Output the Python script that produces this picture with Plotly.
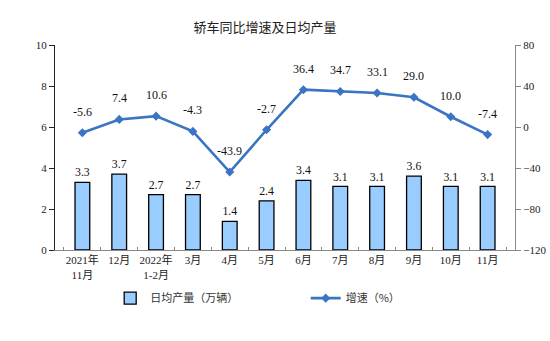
import plotly.graph_objects as go

categories = ["2021年<br>11月", "12月", "2022年<br>1-2月", "3月", "4月", "5月",
              "6月", "7月", "8月", "9月", "10月", "11月"]
daily_output = [3.3, 3.7, 2.7, 2.7, 1.4, 2.4, 3.4, 3.1, 3.1, 3.6, 3.1, 3.1]
growth = [-5.6, 7.4, 10.6, -4.3, -43.9, -2.7, 36.4, 34.7, 33.1, 29.0, 10.0, -7.4]

FONT = "Liberation Serif, Noto Sans CJK SC, serif"

fig = go.Figure()
fig.add_trace(go.Bar(
    x=categories, y=daily_output, name="日均产量（万辆）",
    marker=dict(color="#99CCFF", line=dict(color="#000000", width=1.3)),
    width=0.4,
    text=[f"{v:.1f}" for v in daily_output], textposition="outside",
    textfont=dict(family=FONT, size=12, color="#111"),
    cliponaxis=False, legend="legend",
))
fig.add_trace(go.Scatter(
    x=categories, y=growth, name="增速（%）", yaxis="y2",
    mode="lines+markers",
    line=dict(color="#3A74C2", width=2.6),
    marker=dict(symbol="diamond", size=7, color="#3A74C2"),
    cliponaxis=False, legend="legend2",
))

for c, v in zip(categories, growth):
    fig.add_annotation(x=c, y=v, xref="x", yref="y2", text=f"{v:.1f}",
                       showarrow=False, yshift=21,
                       font=dict(family=FONT, size=12, color="#111"))

legend_font = dict(family="Noto Sans CJK SC", size=11, color="#333")
fig.update_layout(
    width=550, height=341,
    margin=dict(l=55, r=35, t=45, b=91, autoexpand=False),
    paper_bgcolor="white", plot_bgcolor="white",
    title=dict(text="轿车同比增速及日均产量", x=0.482, xanchor="center", y=0.92, yanchor="middle",
               font=dict(family="Noto Sans CJK SC", size=13, color="#222")),
    font=dict(family=FONT, size=11, color="#222"),
    showlegend=True,
    legend=dict(x=0.12, xanchor="left", y=-0.235, yanchor="middle",
                font=legend_font, itemwidth=30, bgcolor="rgba(0,0,0,0)"),
    legend2=dict(x=0.545, xanchor="left", y=-0.235, yanchor="middle",
                 font=legend_font, itemwidth=30, bgcolor="rgba(0,0,0,0)"),
    xaxis=dict(type="category", showline=True, linecolor="#888", linewidth=1,
               ticks="inside", ticklen=3, tickcolor="#888", tickson="boundaries",
               tickangle=0, automargin=False,
               tickfont=dict(family=FONT, size=11, color="#222"),
               showgrid=False, zeroline=False, fixedrange=True),
    yaxis=dict(range=[0, 10], dtick=2, showline=True, linecolor="#222", linewidth=1,
               ticks="outside", ticklen=5, tickcolor="#222", automargin=False,
               showgrid=False, zeroline=False,
               tickfont=dict(family=FONT, size=11, color="#222")),
    yaxis2=dict(range=[-120, 80], dtick=40, overlaying="y", side="right",
                showline=True, linecolor="#888", linewidth=1, automargin=False,
                ticks="outside", ticklen=5, tickcolor="#888",
                showgrid=False, zeroline=False,
                tickfont=dict(family=FONT, size=11, color="#222")),
)

fig.write_html("out.html")
